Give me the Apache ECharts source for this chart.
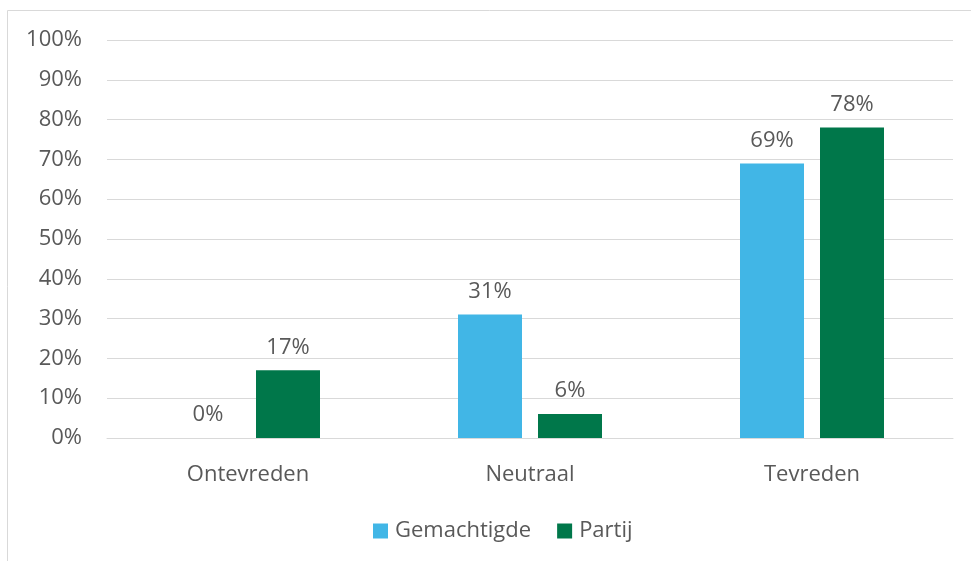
<!DOCTYPE html>
<html>
<head>
<meta charset="utf-8">
<script src="https://cdn.jsdelivr.net/npm/echarts@6/dist/echarts.min.js"></script>
<style>
  html, body { margin: 0; padding: 0; background: #fff; }
  #chart { width: 971px; height: 561px; }
</style>
</head>
<body>
<div id="chart"></div>
<script>
const categories = ["Ontevreden", "Neutraal", "Tevreden"];
const gemachtigde = [0, 31, 69];
const partij = [17, 6, 78];
const seriesNames = ["Gemachtigde", "Partij"];

const textColor = "#595959";
const font = "'Open Sans', 'Noto Sans', sans-serif";
const fs = 22;

const chart = echarts.init(document.getElementById("chart"));

const labelStyle = {
  show: true,
  position: "top",
  distance: 12,
  formatter: "{c}%",
  color: textColor,
  fontSize: fs,
  fontFamily: font
};

chart.setOption({
  animation: false,
  textStyle: { fontFamily: font },
  graphic: [{
    type: "rect",
    shape: { x: 7.5, y: 10.5, width: 980, height: 580 },
    style: { fill: "none", stroke: "#d9d9d9", lineWidth: 1 },
    silent: true,
    z: -1
  }],
  grid: { left: 107, right: 18, top: 40, bottom: 123 },
  legend: {
    bottom: 14,
    left: 368,
    itemWidth: 15,
    itemHeight: 15,
    itemGap: 26,
    icon: "rect",
    textStyle: { color: textColor, fontSize: fs, fontFamily: font, padding: [0, 0, 0, 2] },
    data: seriesNames
  },
  xAxis: {
    type: "category",
    data: categories,
    axisLine: { lineStyle: { color: "#d9d9d9", width: 1 } },
    axisTick: { show: false },
    axisLabel: { color: textColor, fontSize: fs, fontFamily: font, margin: 26 }
  },
  yAxis: {
    type: "value",
    min: 0,
    max: 100,
    interval: 10,
    axisLine: { show: false },
    axisTick: { show: false },
    splitLine: { lineStyle: { color: "#d9d9d9", width: 1 } },
    axisLabel: { color: textColor, fontSize: fs, fontFamily: font, margin: 25, formatter: "{value}%" }
  },
  series: [
    {
      name: seriesNames[0],
      type: "bar",
      data: gemachtigde,
      barWidth: 64,
      barGap: "25%",
      itemStyle: { color: "#41b6e6" },
      label: labelStyle
    },
    {
      name: seriesNames[1],
      type: "bar",
      data: partij,
      barWidth: 64,
      barGap: "25%",
      itemStyle: { color: "#00774a" },
      label: labelStyle
    }
  ]
});
</script>
</body>
</html>
